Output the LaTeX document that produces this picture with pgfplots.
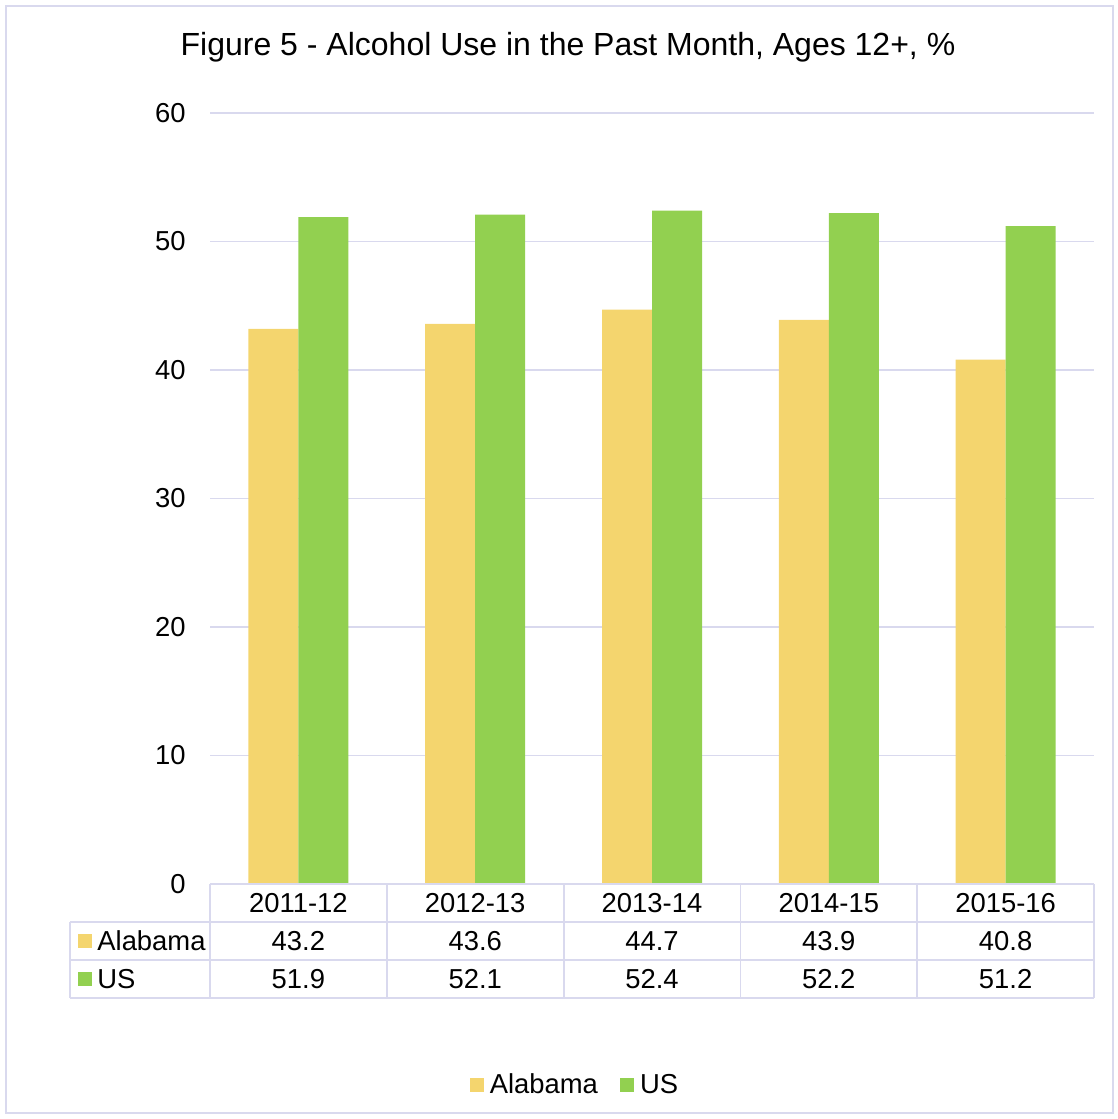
\documentclass[border=0pt]{standalone}
\usepackage{pgfplots}
\pgfplotsset{compat=1.18}
\usepackage{fontspec}
\setmainfont{Liberation Sans}
\definecolor{ala}{HTML}{F4D56E}
\definecolor{usg}{HTML}{92D050}
\definecolor{gridc}{HTML}{D9D9EE}
\newcommand{\tfont}{\fontsize{13.7}{16}\selectfont}
\begin{document}
\begin{tikzpicture}
\path[use as bounding box] (0,0) rectangle (559pt,-559.5pt);
\draw[gridc, line width=0.8pt] (3pt,-3pt) rectangle (556.5pt,-556.5pt);
\node[font=\fontsize{16}{19}\selectfont] at (284pt,-23.5pt) {Figure 5 - Alcohol Use in the Past Month, Ages 12+, \%};
\begin{axis}[
  at={(105pt,-442pt)}, anchor=south west,
  scale only axis, width=442pt, height=385.5pt,
  xmin=-0.5, xmax=4.5, ymin=0, ymax=60,
  ytick={0,10,...,60}, xtick=\empty,
  ymajorgrids, grid style={gridc, line width=0.8pt},
  axis line style={draw=none},
  major tick length=0pt,
  /pgf/number format/assume math mode=true,
  yticklabel style={font=\tfont, anchor=east, inner sep=0pt, xshift=-12pt},
  ybar, bar width=25pt,
  clip=false,
  legend style={at={(0.4123,-0.2607)}, anchor=center, draw=none, legend columns=-1,
    font=\tfont, column sep=0pt, nodes={inner xsep=0.5pt},
    /tikz/every even column/.append style={column sep=10.5pt}},
  legend image code/.code={\fill[#1] (0pt,-3.5pt) rectangle (7pt,3.5pt); \path (9.5pt,0pt);},
]
\addplot[fill=ala, draw=none, bar shift=-12.5pt] coordinates {(0,43.2) (1,43.6) (2,44.7) (3,43.9) (4,40.8)};
\addlegendentry{Alabama}
\addplot[fill=usg, draw=none, bar shift=12.5pt] coordinates {(0,51.9) (1,52.1) (2,52.4) (3,52.2) (4,51.2)};
\addlegendentry{US}
\end{axis}
% data table
\begin{scope}[gridc, line width=0.9pt]
\draw (105pt,-442pt) -- (547pt,-442pt);
\draw (35pt,-461pt) -- (547pt,-461pt);
\draw (35pt,-480pt) -- (547pt,-480pt);
\draw (35pt,-499pt) -- (547pt,-499pt);
\draw (35pt,-461pt) -- (35pt,-499pt);
\foreach \x in {105,193.4,281.8,370.2,458.6,547} {\draw (\x pt,-442pt) -- (\x pt,-499pt);}
\end{scope}
\begin{scope}[font=\tfont]
\foreach \x/\t in {149.2/2011-12,237.6/2012-13,326/2013-14,414.4/2014-15,502.8/2015-16} {\node at (\x pt,-451.5pt) {\t};}
\foreach \x/\t in {149.2/43.2,237.6/43.6,326/44.7,414.4/43.9,502.8/40.8} {\node at (\x pt,-470.5pt) {\t};}
\foreach \x/\t in {149.2/51.9,237.6/52.1,326/52.4,414.4/52.2,502.8/51.2} {\node at (\x pt,-489.5pt) {\t};}
\fill[ala] (39pt,-467pt) rectangle (46pt,-474pt);
\fill[usg] (39pt,-486pt) rectangle (46pt,-493pt);
\node[anchor=west, inner sep=0pt] at (48.5pt,-470.5pt) {Alabama};
\node[anchor=west, inner sep=0pt] at (48.5pt,-489.5pt) {US};
\end{scope}
\end{tikzpicture}
\end{document}
